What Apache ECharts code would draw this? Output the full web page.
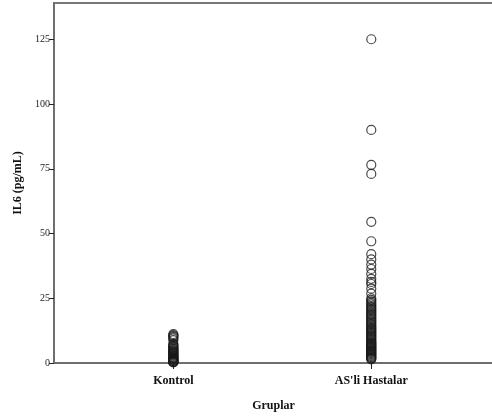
<!DOCTYPE html>
<html>
<head>
<meta charset="utf-8">
<script src="https://cdn.jsdelivr.net/npm/echarts@6/dist/echarts.min.js"></script>
<style>
  html, body { margin: 0; padding: 0; background: #fff; }
  #chart { width: 492px; height: 418px; }
</style>
</head>
<body>
<div id="chart"></div>
<script>
// Group names and their positions on the x scale
const groups = ['Kontrol', "AS'li Hastalar"];
const groupPos = [1, 2];

// IL6 values (pg/mL) per group
const kontrolValues = [11.2, 10.8, 10.4, 10, 9.5, 8.8, 7.4, 7.0, 6.6, 6.2, 5.9, 5.6, 5.3, 5.0, 4.7, 4.4, 4.1, 3.9, 3.6, 3.3, 3.0, 2.8, 2.5, 2.2, 2.0, 1.8, 1.6, 1.4, 1.2, 1.0, 0.8, 0.6, 0.5, 0.4, 0.3, 0.2];
const hastaValues = [
  125, 90, 76.5, 73, 54.5, 47, 42, 40, 38, 36.3, 34.4, 32.5, 31.3, 30.5, 28.7, 26.8,
  25, 24.4, 23.8, 23.2, 22.6, 22, 21.5, 21, 20.5, 20, 19.5, 19, 18.5, 18, 17.5, 17,
  16.5, 16, 15.5, 15, 14.5, 14, 13.6, 13.2, 12.8, 12.4, 12, 11.6, 11.2, 10.8, 10.4, 10,
  9.6, 9.2, 8.8, 8.4, 8, 7.7, 7.4, 7.1, 6.8, 6.5, 6.2, 5.9, 5.6, 5.3, 5, 4.7, 4.4, 4.1,
  3.8, 3.5, 3.2, 2.9, 2.6, 2.3, 2, 1.7, 1.4
];

// Y axis tick values
const yTicks = [0, 25, 50, 75, 100, 125];

const serif = '"Liberation Serif", "DejaVu Serif", serif';

function toPoints(pos, values) {
  return values.map(v => [pos, v]);
}

const markerStyle = {
  color: 'rgba(255,255,255,0)',
  borderColor: '#1a1a1a',
  borderWidth: 1.2
};

const chart = echarts.init(document.getElementById('chart'), null, { renderer: 'canvas' });
chart.setOption({
  animation: false,
  backgroundColor: '#ffffff',
  grid: {
    left: 54, right: -1, top: 3, bottom: 55,
    outerBoundsMode: 'none',
    containLabel: false,
    show: true, borderColor: '#777', borderWidth: 2, backgroundColor: 'transparent'
  },
  xAxis: {
    type: 'value',
    min: 0.397,
    max: 2.615,
    name: 'Gruplar',
    nameLocation: 'middle',
    nameGap: 37,
    nameTextStyle: { fontFamily: serif, fontWeight: 'bold', fontSize: 12, color: '#111' },
    axisLine: { show: true, lineStyle: { color: '#6e6e6e', width: 2 } },
    axisTick: { show: true, customValues: groupPos, length: 6, lineStyle: { color: '#222', width: 1 } },
    axisLabel: {
      customValues: groupPos,
      margin: 12,
      fontFamily: serif, fontWeight: 'bold', fontSize: 12, color: '#111',
      formatter: v => groups[groupPos.indexOf(v)] || ''
    },
    splitLine: { show: false }
  },
  yAxis: {
    type: 'value',
    min: 0,
    max: 139,
    name: 'IL6 (pg/mL)',
    nameLocation: 'middle',
    nameGap: 25,
    nameRotate: 90,
    nameTextStyle: { fontFamily: serif, fontWeight: 'bold', fontSize: 12, color: '#111' },
    axisLine: { show: true, lineStyle: { color: '#6e6e6e', width: 2 } },
    axisTick: { show: true, customValues: yTicks, length: 5, lineStyle: { color: '#222', width: 1 } },
    axisLabel: {
      customValues: yTicks,
      margin: 4,
      fontFamily: serif, fontSize: 10, color: '#222'
    },
    splitLine: { show: false }
  },
  series: [
    {
      type: 'scatter',
      symbol: 'circle',
      symbolSize: 9,
      itemStyle: markerStyle,
      data: toPoints(groupPos[0], kontrolValues)
    },
    {
      type: 'scatter',
      symbol: 'circle',
      symbolSize: 9,
      itemStyle: markerStyle,
      data: toPoints(groupPos[1], hastaValues)
    }
  ]
});
</script>
</body>
</html>
